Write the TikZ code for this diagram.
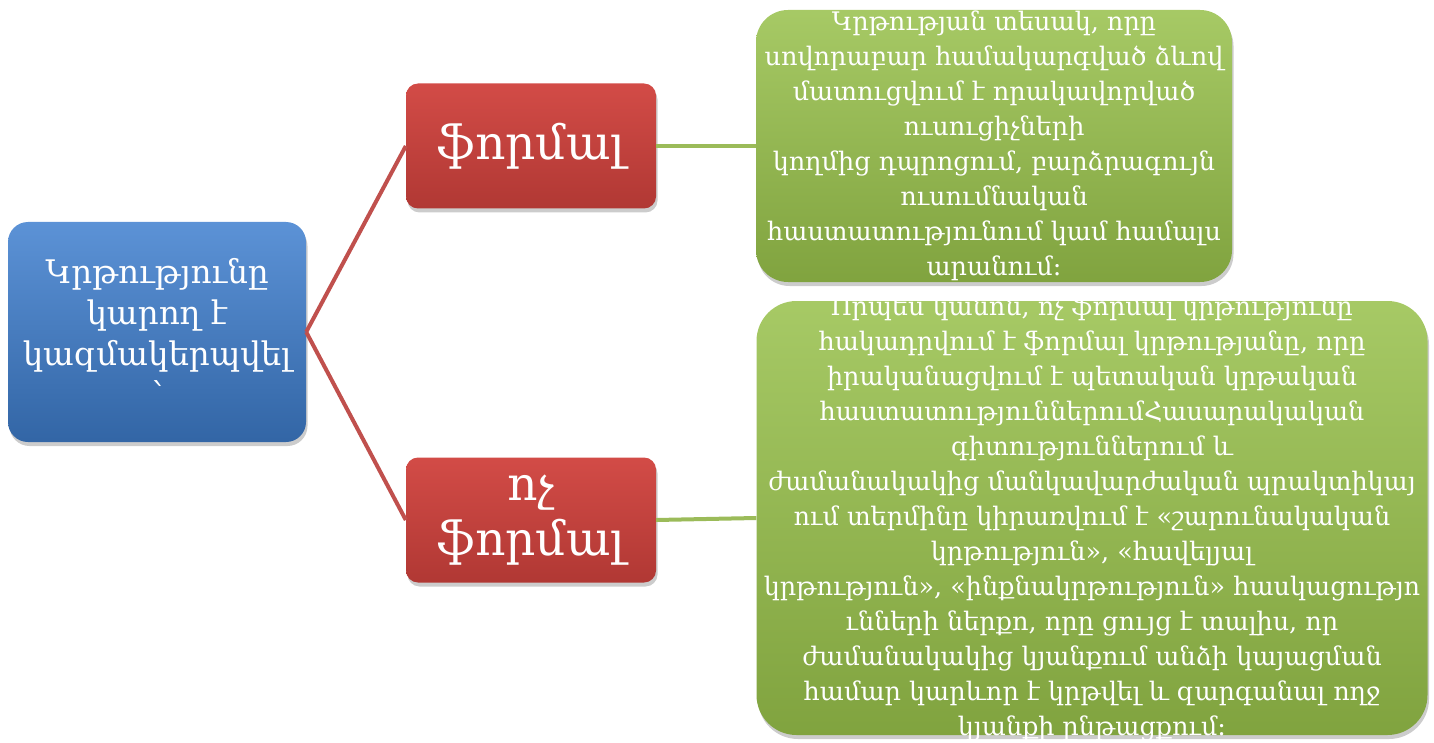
\documentclass[tikz,border=0pt]{standalone}
\usepackage{fontspec}
\setmainfont{DejaVu Serif}
\usepackage{tikz}
\usetikzlibrary{shadows}

\definecolor{boxblue}{HTML}{3F7FCF}
\definecolor{boxred}{HTML}{D0423D}
\definecolor{boxgreen}{HTML}{97C04A}
\definecolor{linered}{HTML}{C0504D}
\definecolor{linegreen}{HTML}{9BBB59}

\tikzset{
  box/.style={draw=none, align=center, text=white,
    drop shadow={opacity=0.4, shadow xshift=1.5pt, shadow yshift=-4pt}},
  rootbox/.style={box, rounded corners=20pt, minimum width=298pt, minimum height=220pt,
    top color=boxblue!85!white, bottom color=boxblue!80!black,
    font=\fontsize{32.5}{41}\selectfont},
  kindbox/.style={box, rounded corners=12pt, minimum width=250pt, minimum height=125pt,
    top color=boxred!95!white, bottom color=boxred!85!black,
    font=\fontsize{47}{55}\selectfont},
  textbox/.style={box, rounded corners=32pt, inner ysep=-15pt,
    top color=boxgreen!85!white, bottom color=boxgreen!85!black,
    font=\fontsize{25.5}{35}\selectfont},
  redline/.style={draw=linered, line width=4pt},
  greenline/.style={draw=linegreen, line width=4pt}
}

\begin{document}
\begin{tikzpicture}[node distance=374pt]
            \useasboundingbox (0pt,0pt) rectangle (1434pt,-743pt);
            \node (K)  [rootbox] at (157pt,-332pt)
                {Կրթությունը\\կարող է\\կազմակերպվել\\՝};
            \node (F)  [kindbox, right of=K, yshift=186pt]  {ֆորմալ};
            \node (NF) [kindbox, right of=K, yshift=-188pt] {ոչ\\ֆորմալ};
            \node (Ft) [textbox, right of=F, node distance=463pt,
                        minimum width=476pt, minimum height=272pt]
                {Կրթության տեսակ, որը\\
                 սովորաբար համակարգված ձևով\\
                 մատուցվում է որակավորված\\
                 ուսուցիչների\\
                 կողմից դպրոցում, բարձրագույն\\
                 ուսումնական\\
                 հաստատությունում կամ համալս\\
                 արանում։};
            \node (NFt) [textbox, right of=NF, node distance=561pt, yshift=2pt,
                         rounded corners=40pt,
                         minimum width=671pt, minimum height=434pt]
                {Որպես կանոն, ոչ ֆորմալ կրթությունը\\
                 հակադրվում է ֆորմալ կրթությանը, որը\\
                 իրականացվում է պետական կրթական\\
                 հաստատություններումՀասարակական\\
                 գիտություններում և\\
                 ժամանակակից մանկավարժական պրակտիկայ\\
                 ում տերմինը կիրառվում է «շարունակական\\
                 կրթություն», «հավելյալ\\
                 կրթություն», «ինքնակրթություն» հասկացությո\\
                 ւնների ներքո, որը ցույց է տալիս, որ\\
                 ժամանակակից կյանքում անձի կայացման\\
                 համար կարևոր է կրթվել և զարգանալ ողջ\\
                 կյանքի ընթացքում։};
            \draw [redline]   (K.east)  -- (F.west);
            \draw [redline]   (K.east)  -- (NF.west);
            \draw [greenline] (F.east)  -- (Ft.west);
            \draw [greenline] (NF.east) -- (NFt.west);
        \end{tikzpicture}
\end{document}
